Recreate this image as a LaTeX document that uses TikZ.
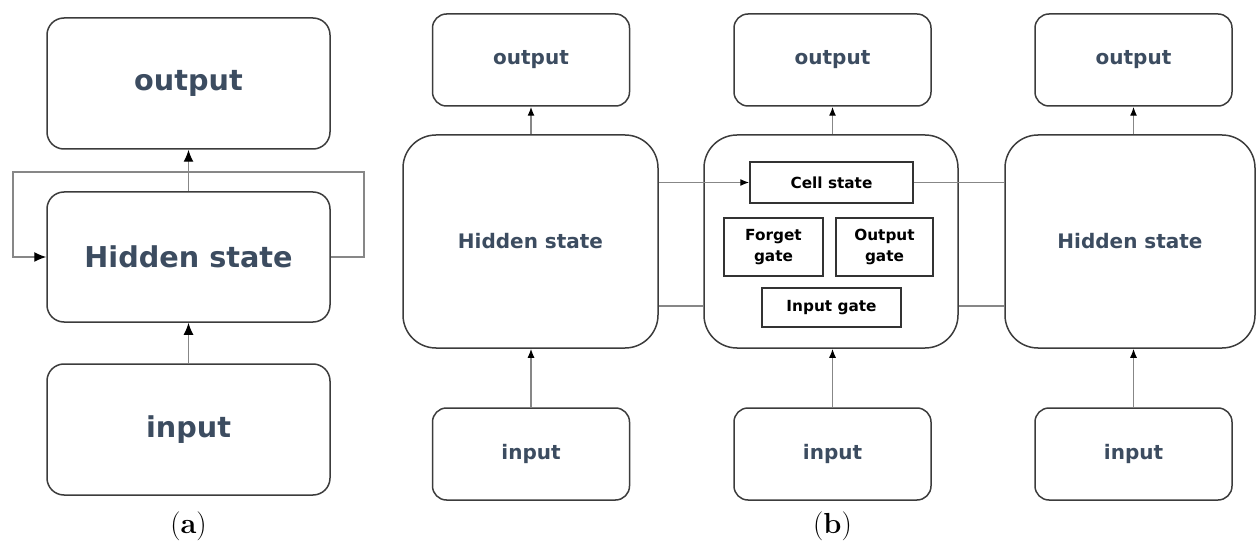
\documentclass[tikz,border=0pt]{standalone}
\usepackage{fontspec}
\usetikzlibrary{arrows.meta}
\newfontfamily\boxfont{DejaVu Sans}
\definecolor{labeltext}{RGB}{60,76,96}
\definecolor{boxline}{RGB}{60,60,60}
\definecolor{wire}{RGB}{135,135,135}

\begin{document}
\begin{tikzpicture}[x=1pt, y=-1pt,
	box/.style={draw=boxline, line width=1.5pt, rounded corners=#1, inner sep=0pt, text=labeltext},
	gatebox/.style={draw=black!80, line width=1.5pt, inner sep=0pt, align=center,
		font=\boxfont\bfseries\fontsize{15.3}{21}\selectfont},
	bigfont/.style={font=\boxfont\bfseries\fontsize{28.7}{34}\selectfont},
	smallfont/.style={font=\boxfont\bfseries\fontsize{20}{24}\selectfont},
	wire/.style={draw=wire, line width=1.3pt},
	arr/.style={-{Latex[length=9pt,width=7pt,black]}},
	bigarr/.style={-{Latex[length=12pt,width=10pt,black]}}]

\useasboundingbox (0,0) rectangle (1256,548);

% (a) simple recurrent cell
\node[box=17pt, bigfont, minimum width=283, minimum height=131] (aout) at (188.5,83.5) {output};
\node[box=17pt, bigfont, minimum width=283, minimum height=130] (ahid) at (188.5,257) {Hidden state};
\node[box=17pt, bigfont, minimum width=283, minimum height=131] (ain) at (188.5,429.5) {input};

\coordinate (loopR) at (364,172);
\coordinate (loopL) at (13,172);

\draw[wire, bigarr] (ain) -- (ahid);
\draw[wire, bigarr] (ahid) -- (aout);
\draw[wire, bigarr] (ahid.east) -| (loopR) -- (loopL) |- (ahid.west);

\node[font=\fontsize{29}{33}\selectfont] (capa) at (188.5,526) {(\textbf{a})};

% (b) unrolled cells
\node[box=33pt, smallfont, minimum width=255, minimum height=213] (bhid1) at (530.5,241.5) {Hidden state};
\node[box=33pt, minimum width=254, minimum height=213] (bhid2) at (831,241.5) {};
\node[box=33pt, smallfont, minimum width=250, minimum height=213] (bhid3) at (1130,241.5) {Hidden state};

\foreach \i/\x in {1/531, 2/832.5, 3/1133.5} {
	\node[box=14pt, smallfont, minimum width=197, minimum height=92] (bout\i) at (\x,60) {output};
	\node[box=14pt, smallfont, minimum width=197, minimum height=92] (bin\i) at (\x,454) {input};
	\draw[wire, arr] (bin\i.north) -- (bin\i.north |- bhid\i.south);
	\draw[wire, arr] (bout\i.south |- bhid\i.north) -- (bout\i.south);
}

% gates inside the middle cell
\node[gatebox, minimum width=163, minimum height=41] (cellst) at (831.5,182.5) {Cell state};
\node[gatebox, minimum width=99, minimum height=58] (forget) at (773.5,247) {Forget\\gate};
\node[gatebox, minimum width=97, minimum height=58] (outgate) at (884.5,247) {Output\\gate};
\node[gatebox, minimum width=139, minimum height=39] (ingate) at (831.5,307.5) {Input gate};

\coordinate (lowwire) at (0,306);
\draw[wire, arr] (bhid1.east |- cellst.west) -- (cellst.west);
\draw[wire] (cellst.east) -- (cellst.east -| bhid3.west);
\draw[wire] (bhid1.east |- lowwire) -- (bhid2.west |- lowwire);
\draw[wire] (bhid2.east |- lowwire) -- (bhid3.west |- lowwire);

\node[font=\fontsize{29}{33}\selectfont] (capb) at (832.5,526) {(\textbf{b})};
\end{tikzpicture}
\end{document}
